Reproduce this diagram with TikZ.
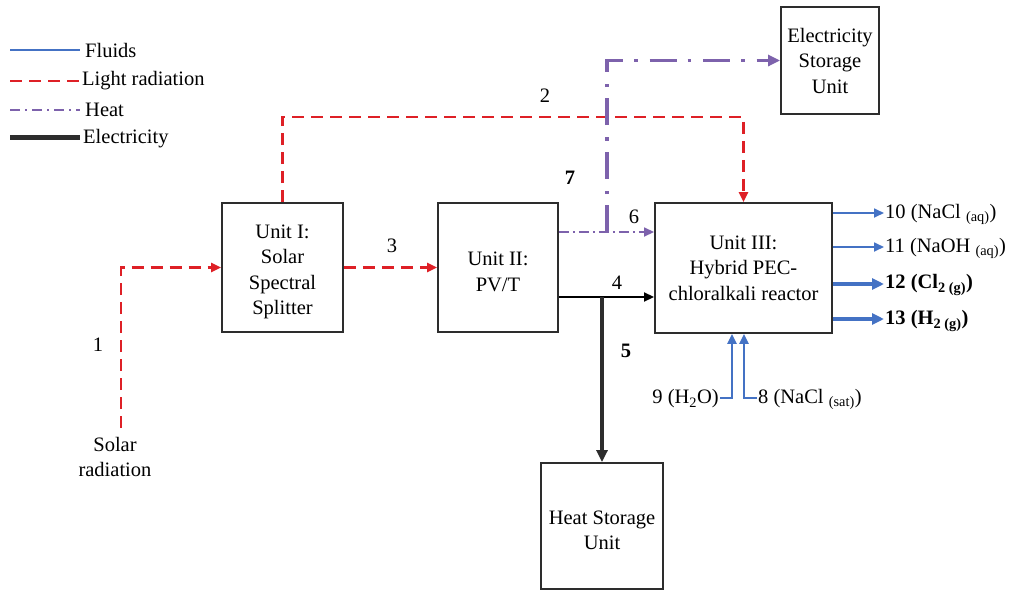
\documentclass[tikz,border=0pt]{standalone}
\usepackage{fontspec}
\setmainfont{Liberation Serif}
\usetikzlibrary{arrows.meta}
\definecolor{fluidblue}{RGB}{68,114,196}
\definecolor{lightred}{RGB}{222,32,38}
\definecolor{heatpurple}{RGB}{125,98,172}
\definecolor{boxgray}{RGB}{45,45,45}
\newcommand\mytopstrut{\rule{0pt}{22pt}}
\begin{document}
\begin{tikzpicture}[x=1pt,y=-1pt,
  box/.style={draw=boxgray, line width=1.9pt, align=center, inner sep=2pt, font=\fontsize{20.5}{25.5}\selectfont},
  lbl/.style={font=\fontsize{20.5}{24.5}\selectfont, inner sep=1pt, align=center},
  blbl/.style={lbl, font=\fontsize{20.5}{24.5}\selectfont\bfseries},
  tip/.style={-{Triangle[length=10pt,width=9pt]}},
  bigtip/.style={-{Triangle[length=12pt,width=11pt]}},
  lightline/.style={draw=lightred, line width=2.3pt, dash pattern=on 12pt off 7pt},
  heatthin/.style={draw=heatpurple, line width=1.7pt, dash pattern=on 10pt off 4pt on 2pt off 4pt},
  heatthick/.style={draw=heatpurple, line width=3.6pt, dash pattern=on 27pt off 11pt on 3.5pt off 12pt},
  fluid/.style={draw=fluidblue, line width=1.7pt},
  fluidmid/.style={draw=fluidblue, line width=2.3pt},
  fluidthick/.style={draw=fluidblue, line width=3.2pt},
  electhin/.style={draw=black, line width=1.8pt},
  electhick/.style={draw=boxgray, line width=3.4pt},
]
\useasboundingbox (0,0) rectangle (1013,595);

% legend
\coordinate (lf1) at (10,50);  \coordinate (lf2) at (80,50);
\coordinate (ll1) at (10,81);  \coordinate (ll2) at (80,81);
\coordinate (lh1) at (10,110); \coordinate (lh2) at (80,110);
\coordinate (le1) at (10,137); \coordinate (le2) at (80,137);
\draw[fluid] (lf1) -- (lf2);
\draw[lightline] (ll1) -- (ll2);
\draw[draw=heatpurple, line width=1.7pt, dash pattern=on 10pt off 5pt on 2pt off 5pt] (lh1) -- (lh2);
\draw[draw=boxgray, line width=5pt] (le1) -- (le2);
\node[lbl, anchor=west] (tf) at (84,50) {Fluids};
\node[lbl, anchor=west] (tl) at (81,81) {Light radiation};
\node[lbl, anchor=west] (th) at (84,110) {Heat};
\node[lbl, anchor=west] (te) at (82,139) {Electricity};

% boxes
\node[box, minimum width=121pt, minimum height=129pt] (u1) at (282.5,267.5) {\mytopstrut Unit I:\\Solar\\Spectral\\Splitter};
\node[box, minimum width=120pt, minimum height=129pt] (u2) at (498,267.5) {\mytopstrut Unit II:\\PV/T};
\node[box, minimum width=177pt, minimum height=130pt] (u3) at (743.5,268) {Unit III:\\Hybrid PEC-\\chloralkali reactor};
\node[box, minimum width=98pt, minimum height=107pt] (es) at (830,60.5) {Electricity\\Storage\\Unit};
\node[box, minimum width=122pt, minimum height=126pt] (hs) at (602,526) {\mytopstrut Heat Storage\\Unit};

% solar radiation input
\node[lbl] (sr) at (115,457) {Solar\\radiation};
\coordinate (s1) at (121,428);
\draw[lightline, tip] (s1) |- (u1.west);
\node[lbl] (n1) at (98,345) {1};

% 3
\draw[lightline, tip] (u1.east) -- (u2.west);
\node[lbl] (n3) at (392,246) {3};

% 2
\coordinate (top2) at (284,117);
\draw[lightline, tip] (u1.north) -- (u1.north |- top2) -- (u3.north |- top2) -- (u3.north);
\node[lbl] (n2) at (545,96) {2};

% 6 and 7 (heat)
\coordinate (h6) at ([yshift=35.5pt]u2.east);
\draw[heatthin, tip] (h6) -- (u3.west |- h6);
\node[lbl] (n6) at (634,217) {6};
\coordinate (j7) at (607,232);
\draw[heatthick, bigtip] (j7) |- (es.west);
\node[blbl] (n7) at (570,178) {7};

% 4 and 5 (electricity)
\coordinate (e4) at ([yshift=-29.5pt]u2.east);
\draw[electhin, tip] (e4) -- (u3.west |- e4);
\node[lbl] (n4) at (617,283) {4};
\coordinate (j5) at (hs.north |- e4);
\draw[electhick, bigtip] (j5) -- (hs.north);
\node[blbl] (n5) at (626,351) {5};

% outputs
\node[lbl, anchor=west] (o10) at (884,214) {10 (NaCl \textsubscript{(aq)})};
\node[lbl, anchor=west] (o11) at (884,248) {11 (NaOH \textsubscript{(aq)})};
\node[blbl, anchor=west] (o12) at (884,285) {12 (Cl\textsubscript{2 (g)})};
\node[blbl, anchor=west] (o13) at (884,321) {13 (H\textsubscript{2 (g)})};
\draw[fluid, tip] (u3.east |- 0,213) -- (o10.west |- 0,213);
\draw[fluid, tip] (u3.east |- 0,247) -- (o11.west |- 0,247);
\draw[fluidthick, bigtip] (u3.east |- 0,284) -- (o12.west |- 0,284);
\draw[fluidthick, bigtip] (u3.east |- 0,319) -- (o13.west |- 0,319);

% inputs
\node[lbl, anchor=east] (i9) at (720,399) {9 (H\textsubscript{2}O)};
\node[lbl, anchor=west] (i8) at (757,399) {8 (NaCl \textsubscript{(sat)})};
\draw[fluidmid, tip] (i9.east |- 0,398) -| ([xshift=-11.5pt]u3.south);
\draw[fluidmid, tip] (i8.west |- 0,398) -| ([xshift=0.5pt]u3.south);
\end{tikzpicture}
\end{document}
